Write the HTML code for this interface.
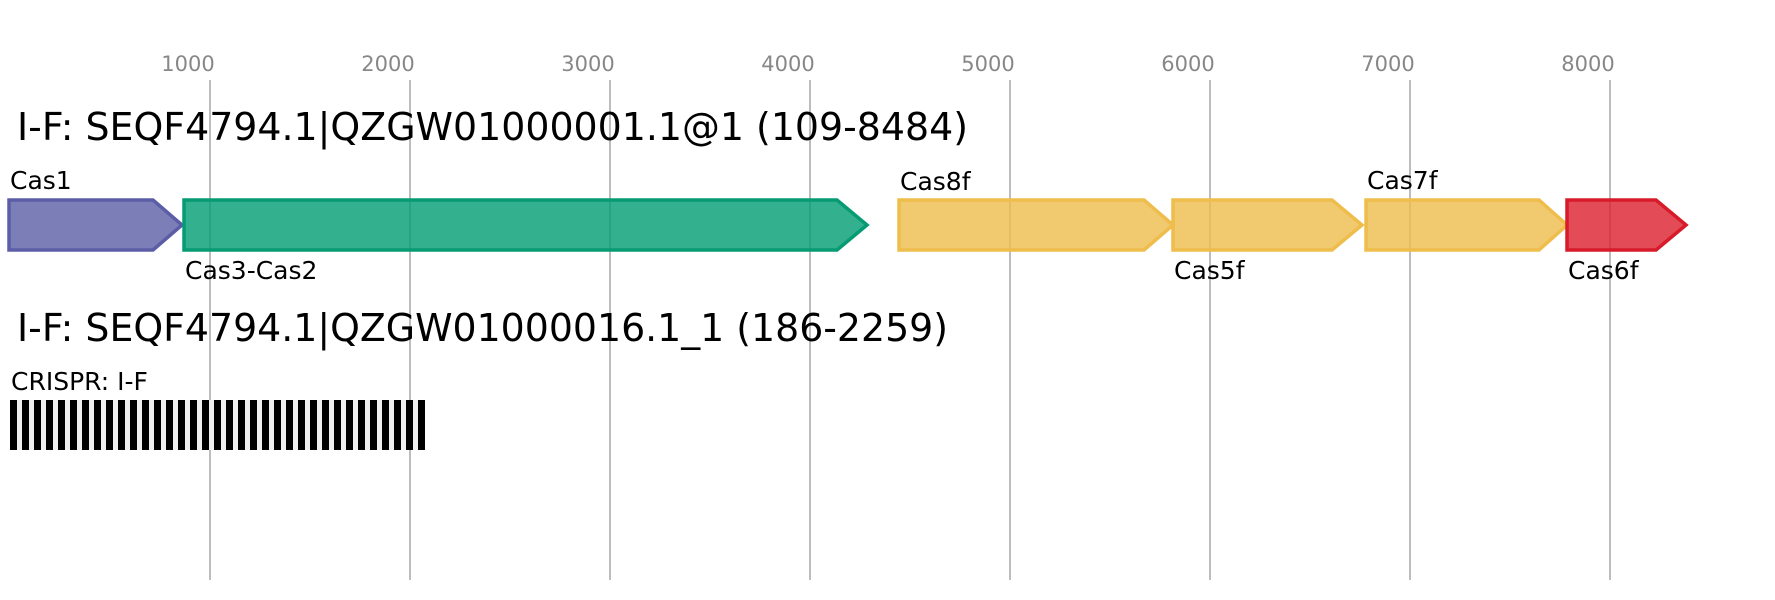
<!DOCTYPE html>
<html><head><meta charset="utf-8"><style>
html,body{margin:0;padding:0;background:#fff;}
svg{display:block;font-family:"DejaVu Sans","Liberation Sans",sans-serif;}
</style></head><body>
<svg width="1775" height="600" viewBox="0 0 1775 600" xmlns="http://www.w3.org/2000/svg">
<g stroke="#bdbdbd" stroke-width="2">
<line x1="210" y1="80" x2="210" y2="580"/>
<line x1="410" y1="80" x2="410" y2="580"/>
<line x1="610" y1="80" x2="610" y2="580"/>
<line x1="810" y1="80" x2="810" y2="580"/>
<line x1="1010" y1="80" x2="1010" y2="580"/>
<line x1="1210" y1="80" x2="1210" y2="580"/>
<line x1="1410" y1="80" x2="1410" y2="580"/>
<line x1="1610" y1="80" x2="1610" y2="580"/>
</g>
<g fill="#888" font-size="21" text-anchor="middle">
<text x="188" y="71">1000</text>
<text x="388" y="71">2000</text>
<text x="588" y="71">3000</text>
<text x="788" y="71">4000</text>
<text x="988" y="71">5000</text>
<text x="1188" y="71">6000</text>
<text x="1388" y="71">7000</text>
<text x="1588" y="71">8000</text>
</g>
<text x="17" y="140" font-size="38" textLength="951" lengthAdjust="spacingAndGlyphs">I-F: SEQF4794.1|QZGW01000001.1@1 (109-8484)</text>
<g stroke-width="3.5" fill-opacity="0.8">
<polygon points="9,200 153,200 182,225 153,250 9,250" fill="#5b5ea6" stroke="#5b5ea6"/>
<polygon points="184,200 837,200 867,225 837,250 184,250" fill="#009e73" stroke="#079b73"/>
<polygon points="899,200 1144,200 1173,225 1144,250 899,250" fill="#eebd4b" stroke="#eebd4b"/>
<polygon points="1173,200 1332,200 1362,225 1332,250 1173,250" fill="#eebd4b" stroke="#eebd4b"/>
<polygon points="1366,200 1539,200 1567,225 1539,250 1366,250" fill="#eebd4b" stroke="#eebd4b"/>
<polygon points="1567,200 1656,200 1686,225 1656,250 1567,250" fill="#dc1e2c" stroke="#d81b2a"/>
</g>
<g font-size="26" fill="#000">
<text x="10" y="189" font-size="25">Cas1</text>
<text x="185" y="279" font-size="25">Cas3-Cas2</text>
<text x="900" y="190" font-size="25">Cas8f</text>
<text x="1174" y="279" font-size="25">Cas5f</text>
<text x="1367" y="189" font-size="25">Cas7f</text>
<text x="1568" y="279" font-size="25">Cas6f</text>
</g>
<text x="17" y="341" font-size="38" textLength="931" lengthAdjust="spacingAndGlyphs">I-F: SEQF4794.1|QZGW01000016.1_1 (186-2259)</text>
<text x="11" y="390" font-size="25">CRISPR: I-F</text>
<rect x="10" y="400" width="415" height="50" fill="#f0f0f0"/>
<g fill="#000">
<rect x="10" y="400" width="7" height="50"/><rect x="22" y="400" width="7" height="50"/><rect x="34" y="400" width="7" height="50"/><rect x="46" y="400" width="7" height="50"/><rect x="58" y="400" width="7" height="50"/><rect x="70" y="400" width="7" height="50"/><rect x="82" y="400" width="7" height="50"/><rect x="94" y="400" width="7" height="50"/><rect x="106" y="400" width="7" height="50"/><rect x="118" y="400" width="7" height="50"/><rect x="130" y="400" width="7" height="50"/><rect x="142" y="400" width="7" height="50"/><rect x="154" y="400" width="7" height="50"/><rect x="166" y="400" width="7" height="50"/><rect x="178" y="400" width="7" height="50"/><rect x="190" y="400" width="7" height="50"/><rect x="202" y="400" width="7" height="50"/><rect x="214" y="400" width="7" height="50"/><rect x="226" y="400" width="7" height="50"/><rect x="238" y="400" width="7" height="50"/><rect x="250" y="400" width="7" height="50"/><rect x="262" y="400" width="7" height="50"/><rect x="274" y="400" width="7" height="50"/><rect x="286" y="400" width="7" height="50"/><rect x="298" y="400" width="7" height="50"/><rect x="310" y="400" width="7" height="50"/><rect x="322" y="400" width="7" height="50"/><rect x="334" y="400" width="7" height="50"/><rect x="346" y="400" width="7" height="50"/><rect x="358" y="400" width="7" height="50"/><rect x="370" y="400" width="7" height="50"/><rect x="382" y="400" width="7" height="50"/><rect x="394" y="400" width="7" height="50"/><rect x="406" y="400" width="7" height="50"/><rect x="418" y="400" width="7" height="50"/>
</g>
</svg>
</body></html>
